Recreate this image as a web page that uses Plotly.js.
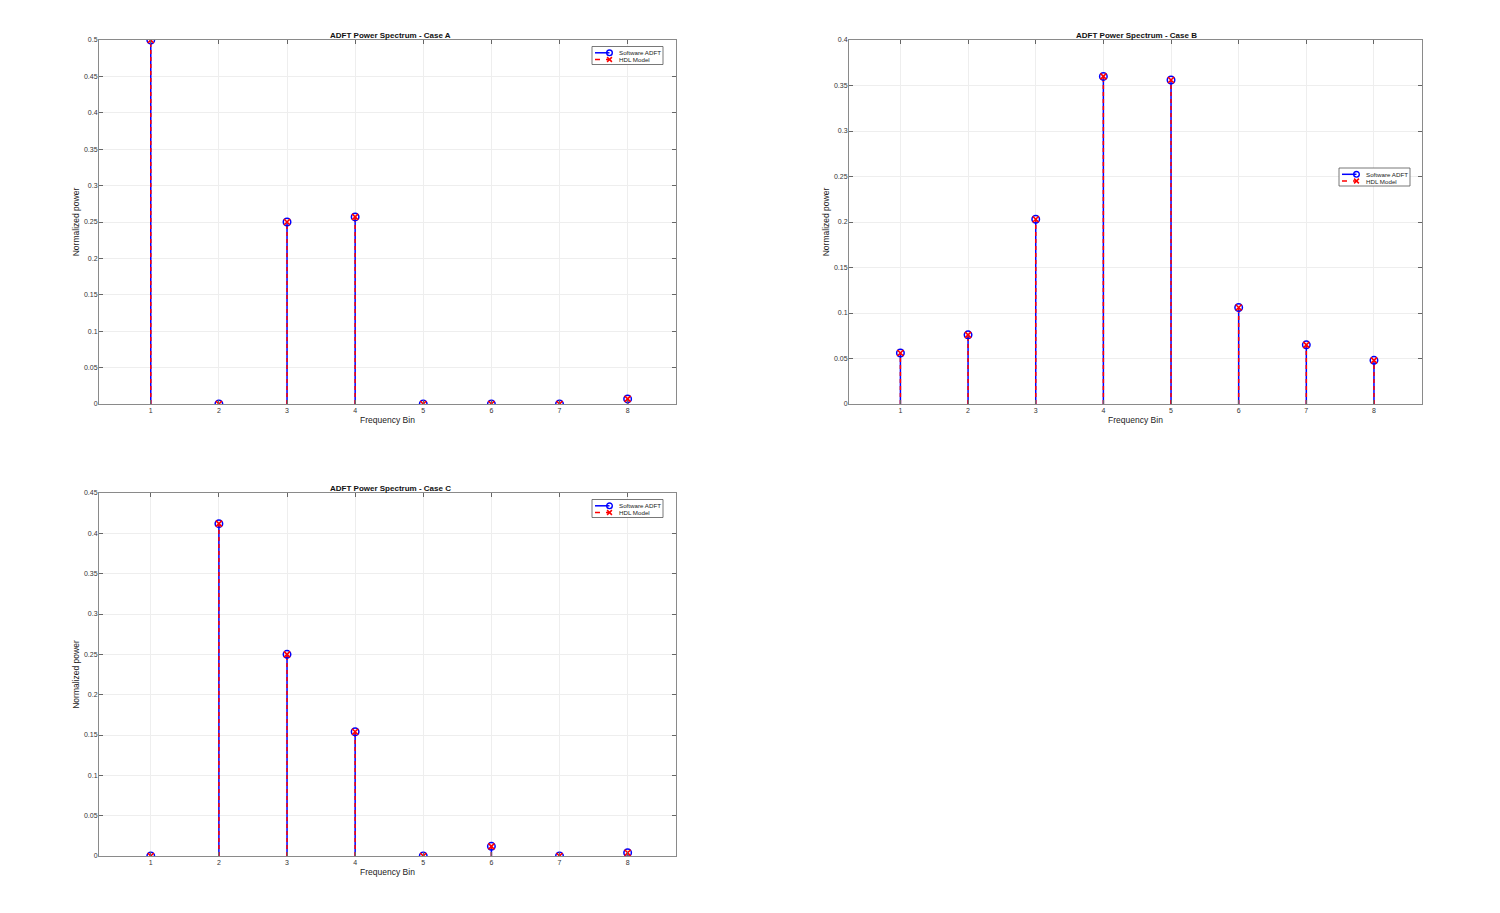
<!DOCTYPE html>
<html>
<head>
<meta charset="utf-8">
<script src="https://cdn.plot.ly/plotly-3.0.1.min.js"></script>
<style>
  html, body { margin:0; padding:0; background:#fff; }
  #chart { width:1500px; height:913px; }
</style>
</head>
<body>
<div id="chart"></div>
<script>
// ---- Data ----
const bins = [1, 2, 3, 4, 5, 6, 7, 8];

const caseA_sw  = [0.5, 0.0, 0.25, 0.257, 0.0, 0.0, 0.0, 0.007];
const caseA_hdl = [0.5, 0.0, 0.25, 0.257, 0.0, 0.0, 0.0, 0.007];

const caseB_sw  = [0.056, 0.076, 0.203, 0.360, 0.356, 0.106, 0.065, 0.048];
const caseB_hdl = [0.056, 0.076, 0.203, 0.360, 0.356, 0.106, 0.065, 0.048];

const caseC_sw  = [0.0, 0.412, 0.25, 0.154, 0.0, 0.012, 0.0, 0.004];
const caseC_hdl = [0.0, 0.412, 0.25, 0.154, 0.0, 0.012, 0.0, 0.004];

const seriesNames = ['Software ADFT', 'HDL Model'];

const FONT = 'Liberation Sans, Arial, sans-serif';
const BLUE = '#0000ff';
const RED  = '#ff0000';
const W = 1500, H = 913;

// stem lines: x,x,null / 0,y,null
function stemXY(xs, ys) {
  const sx = [], sy = [];
  xs.forEach((x, i) => { sx.push(x, x, null); sy.push(0, ys[i], null); });
  return { sx, sy };
}

function stemTraces(sw, hdl, n) {
  const xa = n === 1 ? 'x' : 'x' + n;
  const ya = n === 1 ? 'y' : 'y' + n;
  const s1 = stemXY(bins, sw);
  const s2 = stemXY(bins, hdl);
  return [
    { x: s1.sx, y: s1.sy, xaxis: xa, yaxis: ya, mode: 'lines', name: seriesNames[0],
      line: { color: BLUE, width: 1.5 }, hoverinfo: 'skip' },
    { x: s2.sx, y: s2.sy, xaxis: xa, yaxis: ya, mode: 'lines', name: seriesNames[1],
      line: { color: RED, width: 1.5, dash: '4px,3px' }, hoverinfo: 'skip' },
    { x: bins, y: sw, xaxis: xa, yaxis: ya, mode: 'markers', name: seriesNames[0],
      marker: { symbol: 'circle-open', size: 7.5, color: BLUE, line: { width: 1.5 } } },
    { x: bins, y: hdl, xaxis: xa, yaxis: ya, mode: 'markers', name: seriesNames[1],
      marker: { symbol: 'x-thin-open', size: 6, color: RED, line: { width: 1.6 } } }
  ];
}

const data = [
  ...stemTraces(caseA_sw, caseA_hdl, 1),
  ...stemTraces(caseB_sw, caseB_hdl, 2),
  ...stemTraces(caseC_sw, caseC_hdl, 3)
];

// ---- Axes helpers ----
function xAxis(l, r, anchor) {
  return {
    domain: [l / W, r / W], anchor, range: [0.24, 8.71],
    tickvals: bins, ticks: 'inside', ticklen: 4, tickcolor: '#666',
    showline: true, mirror: 'ticks', linecolor: '#8a8a8a', linewidth: 1,
    showgrid: true, gridcolor: '#eeeeee', zeroline: false,
    tickfont: { size: 7, color: '#333', family: FONT },
    title: { text: 'Frequency Bin', font: { size: 8.5, color: '#222', family: FONT }, standoff: 3 }
  };
}
function yAxis(t, b, anchor, max) {
  return {
    domain: [1 - b / H, 1 - t / H], anchor, range: [0, max],
    dtick: 0.05, ticks: 'inside', ticklen: 4, tickcolor: '#666',
    showline: true, mirror: 'ticks', linecolor: '#8a8a8a', linewidth: 1,
    showgrid: true, gridcolor: '#eeeeee', zeroline: false,
    ticklabelstandoff: -1,
    tickfont: { size: 7, color: '#333', family: FONT },
    title: { text: 'Normalized power', font: { size: 8.5, color: '#222', family: FONT }, standoff: 2 }
  };
}
function title(text, xc, yc) {
  return { text: '<b>' + text + '</b>', x: xc / W, y: 1 - yc / H, xref: 'paper', yref: 'paper',
    xanchor: 'center', yanchor: 'middle', showarrow: false,
    font: { size: 8, color: '#111', family: FONT } };
}

// ---- small MATLAB-style legend box (x0,y0 = top-left in px) ----
const shapes = [], annotations = [];
function legendBox(x0, y0) {
  const px = v => v / W, py = v => 1 - v / H;
  const r1 = y0 + 6.3, r2 = y0 + 13;
  const mx = x0 + 17.5;
  shapes.push(
    { type: 'rect', xref: 'paper', yref: 'paper', x0: px(x0), x1: px(x0 + 71), y0: py(y0), y1: py(y0 + 18),
      line: { color: '#555', width: 0.8 }, fillcolor: '#fff' },
    { type: 'line', xref: 'paper', yref: 'paper', x0: px(x0 + 3), x1: px(mx), y0: py(r1), y1: py(r1),
      line: { color: BLUE, width: 1.5 } },
    { type: 'circle', xref: 'paper', yref: 'paper', x0: px(mx - 2.8), x1: px(mx + 2.8), y0: py(r1 - 2.8), y1: py(r1 + 2.8),
      line: { color: BLUE, width: 1.4 }, fillcolor: 'rgba(0,0,0,0)' },
    { type: 'line', xref: 'paper', yref: 'paper', x0: px(x0 + 3), x1: px(mx), y0: py(r2), y1: py(r2),
      line: { color: RED, width: 1.5, dash: '5px,6px' } },
    { type: 'line', xref: 'paper', yref: 'paper', x0: px(mx - 2.4), x1: px(mx + 2.4), y0: py(r2 - 2.4), y1: py(r2 + 2.4),
      line: { color: RED, width: 1.5 } },
    { type: 'line', xref: 'paper', yref: 'paper', x0: px(mx - 2.4), x1: px(mx + 2.4), y0: py(r2 + 2.4), y1: py(r2 - 2.4),
      line: { color: RED, width: 1.5 } }
  );
  [r1, r2].forEach((ry, i) => annotations.push({
    text: seriesNames[i], x: px(x0 + 24.5), y: py(ry), xref: 'paper', yref: 'paper',
    xanchor: 'left', yanchor: 'middle', showarrow: false,
    font: { size: 6.2, color: '#222', family: FONT }
  }));
}
legendBox(592, 46.5);
legendBox(1339, 168);
legendBox(592, 499.5);

annotations.push(
  title('ADFT Power Spectrum - Case A', 390, 35.5),
  title('ADFT Power Spectrum - Case B', 1136, 35.5),
  title('ADFT Power Spectrum - Case C', 390, 488.5)
);

const layout = {
  width: W, height: H,
  margin: { l: 0, r: 0, t: 0, b: 0 },
  paper_bgcolor: '#fff', plot_bgcolor: '#fff',
  font: { family: FONT },
  showlegend: false,
  xaxis:  xAxis(99, 676, 'y'),
  yaxis:  yAxis(40, 404, 'x', 0.5),
  xaxis2: xAxis(849, 1422, 'y2'),
  yaxis2: yAxis(40, 404, 'x2', 0.4),
  xaxis3: xAxis(99, 676, 'y3'),
  yaxis3: yAxis(493, 856, 'x3', 0.45),
  shapes, annotations
};

Plotly.newPlot('chart', data, layout, { staticPlot: true, displayModeBar: false });
</script>
</body>
</html>
